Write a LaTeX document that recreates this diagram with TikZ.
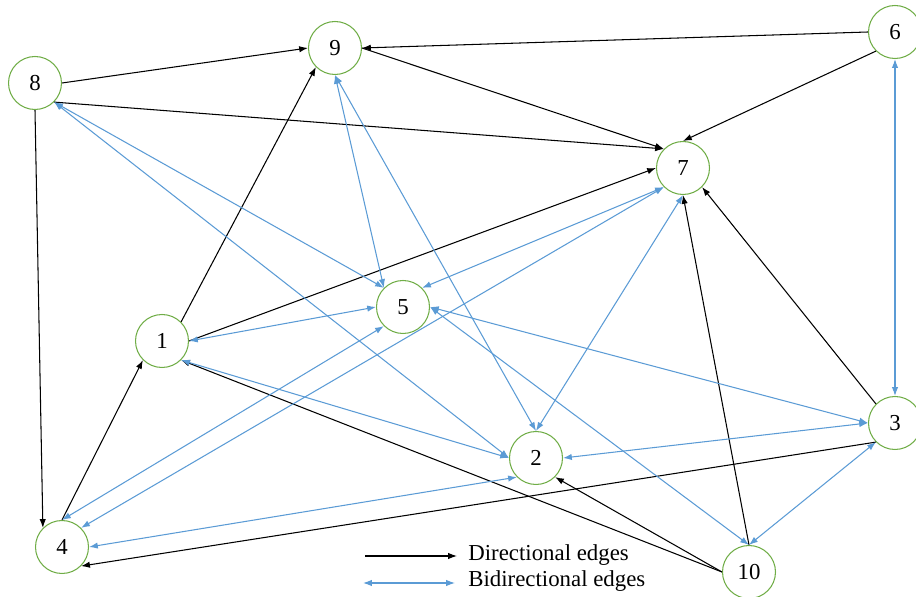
\documentclass[tikz,border=0pt]{standalone}
\usepackage{fontspec}
\setmainfont{Liberation Serif}
\usetikzlibrary{arrows.meta}
\definecolor{nodegreen}{HTML}{70AD47}
\definecolor{edgeblue}{HTML}{5B9BD5}

\begin{document}
\begin{tikzpicture}[x = 0.02cm, y = -0.02cm,
	vertex/.style = {circle, draw = nodegreen, line width = 0.6pt, minimum size = 1.06cm, inner sep = 0pt, font = \fontsize{13}{15}\selectfont},
	diredge/.style = {-{Latex[length = 5pt, width = 3.6pt]}, line width = 0.6pt},
	biedge/.style = {{Latex[length = 5pt, width = 3.6pt]}-{Latex[length = 5pt, width = 3.6pt]}, edgeblue, line width = 0.6pt}]
	\useasboundingbox (0,0) rectangle (916,597);

	\node[vertex] (n1) at (162,341) {1};
	\node[vertex] (n2) at (536,458) {2};
	\node[vertex] (n3) at (895,423) {3};
	\node[vertex] (n4) at (62,547) {4};
	\node[vertex] (n5) at (403,307) {5};
	\node[vertex] (n6) at (895,32) {6};
	\node[vertex] (n7) at (683,168) {7};
	\node[vertex] (n8) at (35,83) {8};
	\node[vertex] (n9) at (335,48) {9};
	\node[vertex] (n10) at (749,572) {10};

	% directional edges
	\draw[diredge] (n8.east) -- (n9.west);
	\draw[diredge] (n6.west) -- (n9.east);
	\draw[diredge] (n9.east) -- (n7.north west);
	\draw[diredge] (n6.south west) -- (n7.north);
	\draw[diredge] (n8.south east) -- (n7.north west);
	\draw[diredge] (n8.south) -- (n4.north west);
	\draw[diredge] (n1.north east) -- (n9.south west);
	\draw[diredge] (n1.east) -- (n7.west);
	\draw[diredge] (n4.north) -- (n1.south west);
	\draw[diredge] (n3.north west) -- (n7.south east);
	\draw[diredge] (n10.north) -- (n7.south);
	\draw[diredge] (n10.west) -- (n1.south east);
	\draw[diredge] (n10.west) -- (n2.south east);
	\draw[diredge] (n3.south west) -- (n4.south east);

	% bidirectional edges
	\draw[biedge] (n6.south) -- (n3.north);
	\draw[biedge] (n9.south) -- (n5.north west);
	\draw[biedge] (n9.south) -- (n2.north);
	\draw[biedge] (n8.south east) -- (n5.north west);
	\draw[biedge] (n8.south east) -- (n2.west);
	\draw[biedge] (n7.south west) -- (n5.north east);
	\draw[biedge] (n7.south west) -- (n4.north east);
	\draw[biedge] (n7.south) -- (n2.north);
	\draw[biedge] (n1.east) -- (n5.west);
	\draw[biedge] (n1.south east) -- (n2.west);
	\draw[biedge] (n5.east) -- (n3.west);
	\draw[biedge] (n5.east) -- (n10.north);
	\draw[biedge] (n4.north) -- (n5.south west);
	\draw[biedge] (n4.east) -- (n2.south west);
	\draw[biedge] (n2.east) -- (n3.west);
	\draw[biedge] (n3.south west) -- (n10.north);

	% legend
	\coordinate (dirA) at (365,556);
	\coordinate (dirB) at (457,556);
	\coordinate (biA) at (363,583);
	\coordinate (biB) at (455,583);
	\draw[diredge] (dirA) -- (dirB);
	\draw[biedge] (biA) -- (biB);
	\node[anchor = west, inner sep = 0pt, font = \fontsize{13}{15}\selectfont] (dirlab) at (468,555) {Directional edges};
	\node[anchor = west, inner sep = 0pt, font = \fontsize{13}{15}\selectfont] (bilab) at (468,581) {Bidirectional edges};
\end{tikzpicture}
\end{document}
